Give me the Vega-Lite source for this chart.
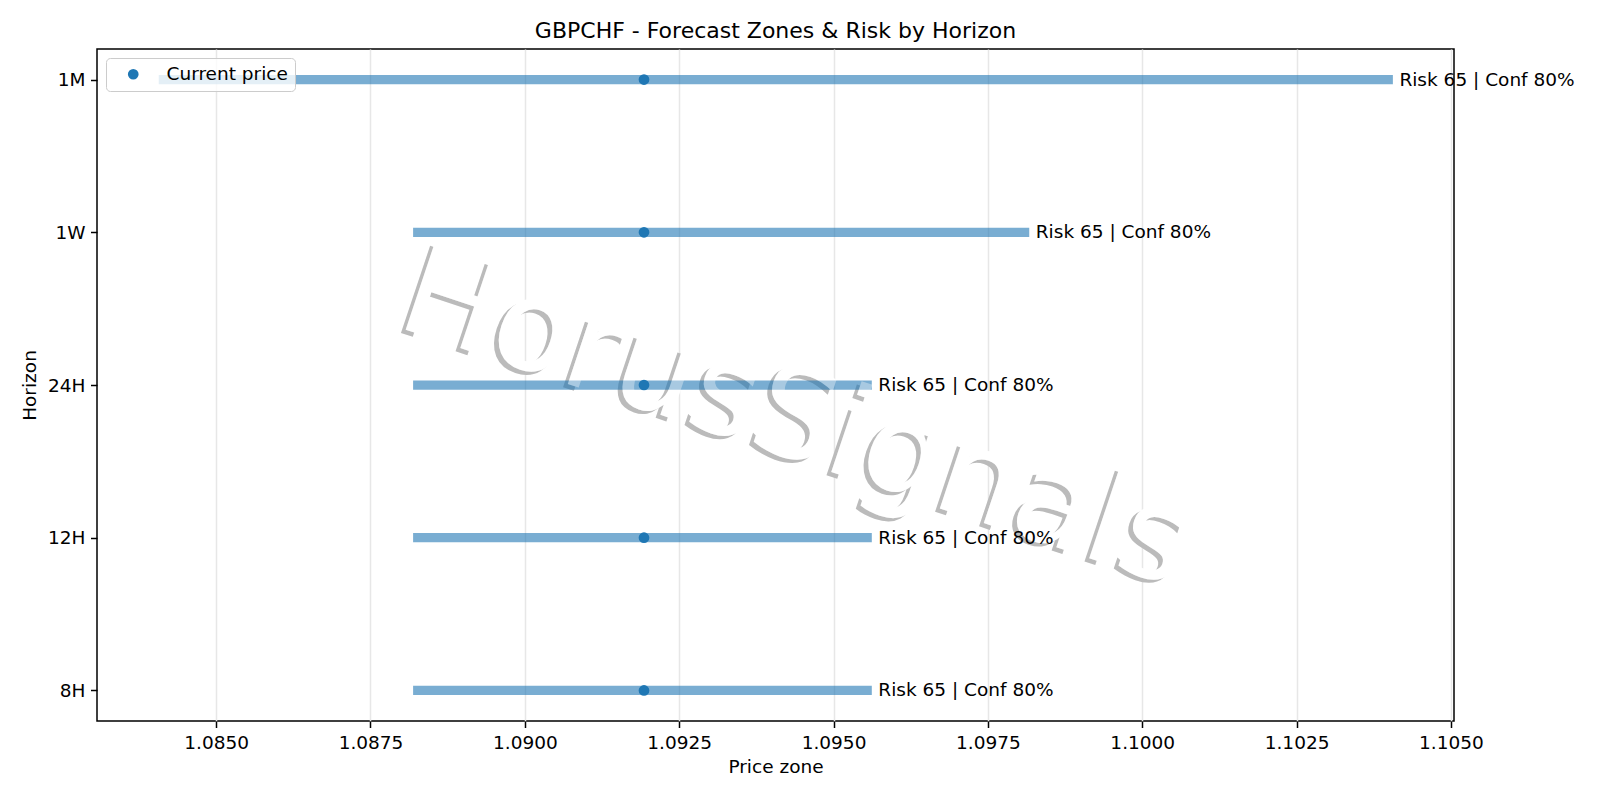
{
  "$schema": "https://vega.github.io/schema/vega-lite/v6.json",
  "width": 1357,
  "height": 672,
  "autosize": "none",
  "padding": {"left": 97, "top": 49, "right": 146, "bottom": 79},
  "background": "white",
  "title": {
    "text": "GBPCHF - Forecast Zones & Risk by Horizon",
    "fontSize": 22,
    "font": "DejaVu Sans",
    "fontWeight": "normal",
    "color": "#000",
    "baseline": "bottom",
    "offset": 6,
    "dy": 22
  },
  "datasets": {
    "zones": [
      {"horizon": "1M", "low": 1.08407, "high": 1.10406, "current": 1.09193, "label": "Risk 65 | Conf 80%"},
      {"horizon": "1W", "low": 1.08819, "high": 1.09817, "current": 1.09193, "label": "Risk 65 | Conf 80%"},
      {"horizon": "24H", "low": 1.08819, "high": 1.09562, "current": 1.09193, "label": "Risk 65 | Conf 80%"},
      {"horizon": "12H", "low": 1.08819, "high": 1.09562, "current": 1.09193, "label": "Risk 65 | Conf 80%"},
      {"horizon": "8H", "low": 1.08819, "high": 1.09562, "current": 1.09193, "label": "Risk 65 | Conf 80%"}
    ],
    "mark": [
      {"price": 1.09458, "horizon": "24H", "text": "HorusSignals"}
    ]
  },
  "encoding": {
    "y": {
      "field": "horizon",
      "type": "nominal",
      "title": "Horizon",
      "scale": {"type": "point", "padding": 0.2, "domain": ["1M", "1W", "24H", "12H", "8H"]},
      "axis": {"titlePadding": 8}
    }
  },
  "layer": [
    {
      "data": {"name": "mark"},
      "mark": {"type": "text", "angle": 18.5, "fontSize": 126, "align": "center", "baseline": "middle", "color": "#bbbbbb", "dx": -3.5, "dy": 41.5},
      "encoding": {
        "x": {"field": "price", "type": "quantitative", "title": "Price zone", "scale": {"domain": [1.08307, 1.10505], "nice": false, "zero": false}},
        "text": {"field": "text"}
      }
    },
    {
      "data": {"name": "mark"},
      "mark": {"type": "text", "angle": 18.5, "fontSize": 126, "align": "center", "baseline": "middle", "color": "white", "dy": 37},
      "encoding": {
        "x": {"field": "price", "type": "quantitative", "title": "Price zone"},
        "text": {"field": "text"}
      }
    },
    {
      "data": {"name": "zones"},
      "mark": {"type": "rule", "strokeWidth": 9.25, "strokeCap": "butt", "color": "#1f77b4", "opacity": 0.6},
      "encoding": {
        "x": {
          "field": "low",
          "type": "quantitative",
          "title": "Price zone",
          "axis": {
            "values": [1.085, 1.0875, 1.09, 1.0925, 1.095, 1.0975, 1.1, 1.1025, 1.105],
            "format": ".4f",
            "grid": true,
            "titlePadding": 6
          }
        },
        "x2": {"field": "high"}
      }
    },
    {
      "data": {"name": "mark"},
      "mark": {"type": "text", "angle": 18.5, "fontSize": 126, "align": "center", "baseline": "middle", "color": "white", "opacity": 0.35, "dy": 37},
      "encoding": {
        "x": {"field": "price", "type": "quantitative", "title": "Price zone"},
        "text": {"field": "text"}
      }
    },
    {
      "data": {"name": "zones"},
      "mark": {"type": "point", "filled": true, "shape": "circle", "size": 115, "opacity": 1},
      "encoding": {
        "x": {"field": "current", "type": "quantitative", "title": "Price zone"},
        "color": {"datum": "Current price", "scale": {"range": ["#1f77b4"]}, "legend": {"title": null}}
      }
    },
    {
      "data": {"name": "zones"},
      "mark": {"type": "text", "align": "left", "baseline": "middle", "dx": 6.5, "fontSize": 18.5, "color": "#000"},
      "encoding": {
        "x": {"field": "high", "type": "quantitative", "title": "Price zone"},
        "text": {"field": "label"}
      }
    }
  ],
  "config": {
    "font": "DejaVu Sans",
    "view": {"stroke": "#000", "strokeWidth": 1.5},
    "axis": {
      "labelFont": "DejaVu Sans",
      "titleFont": "DejaVu Sans",
      "labelFontSize": 18.5,
      "titleFontSize": 18.5,
      "titleFontWeight": "normal",
      "labelColor": "#000",
      "titleColor": "#000",
      "tickColor": "#000",
      "tickSize": 6.5,
      "tickWidth": 1.5,
      "labelPadding": 5.5,
      "domain": false,
      "grid": false,
      "gridColor": "#e7e7e7",
      "gridWidth": 1.5
    },
    "legend": {
      "orient": "top-left",
      "offset": 9,
      "padding": 7,
      "strokeColor": "#cccccc",
      "fillColor": "rgba(255,255,255,0.8)",
      "cornerRadius": 4,
      "symbolOffset": 11,
      "labelOffset": 24,
      "labelFont": "DejaVu Sans",
      "labelFontSize": 18.5,
      "labelColor": "#000",
      "symbolSize": 115,
      "symbolType": "circle",
      "symbolOpacity": 1,
      "symbolStrokeWidth": 0
    }
  }
}
